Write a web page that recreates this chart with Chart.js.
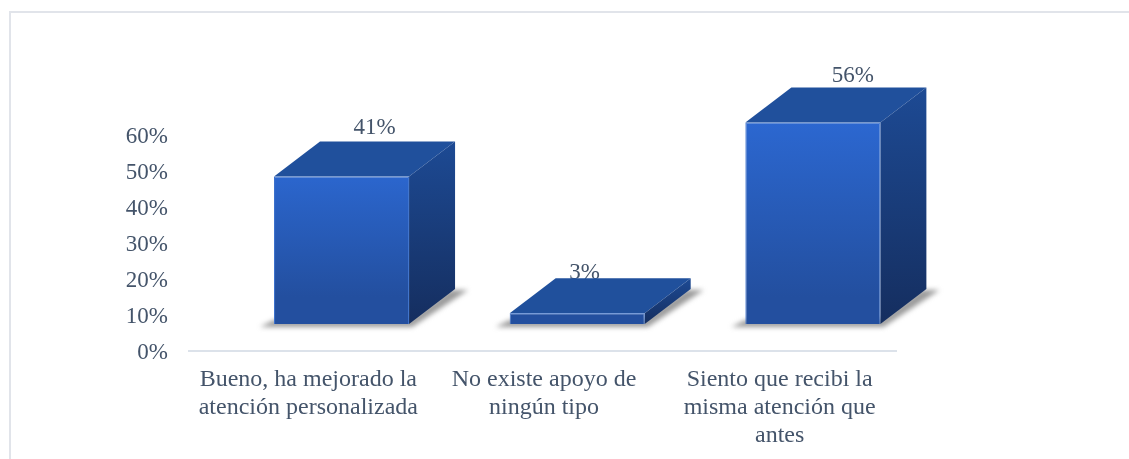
<!DOCTYPE html>
<html>
<head>
<meta charset="utf-8">
<script src="https://cdn.jsdelivr.net/npm/chart.js@4"></script>
<style>
html,body{margin:0;padding:0;background:#fff;}
#wrap{width:1129px;height:459px;position:relative;}
canvas{display:block;}
</style>
</head>
<body>
<div id="wrap"><canvas id="c" width="1129" height="459"></canvas></div>
<script>
const categories = [
  ["Bueno, ha mejorado la", "atención personalizada"],
  ["No existe apoyo de", "ningún tipo"],
  ["Siento que recibi la", "misma atención que", "antes"]
];
const values = [41, 3, 56];
const yTickLabels = ["0%", "10%", "20%", "30%", "40%", "50%", "60%"];

const TEXT = "#44546A";
const FONT = "'Liberation Serif', 'Times New Roman', serif";
const FLOOR_X = 34.7, FLOOR_Y = -27;   // the 3D floor's offset from the axes
const DEPTH_X = 46, DEPTH_Y = -35;   // depth of the 3D box
const LABEL_OFFSETS = [[10, -48], [-15.5, -40], [17, -46.5]]; // label offset from the box's back-top centre

function hexGrad(ctx, y0, y1, a, b) {
  const g = ctx.createLinearGradient(0, y0, 0, y1);
  g.addColorStop(0, a); g.addColorStop(1, b);
  return g;
}

const frame = {
  id: "frame",
  beforeDraw(chart) {
    const c = chart.ctx;
    c.save();
    c.strokeStyle = "#E1E4EA";
    c.lineWidth = 2;
    c.beginPath();
    c.moveTo(10, 459); c.lineTo(10, 12); c.lineTo(1129, 12);
    c.stroke();
    c.restore();
    // small alignment nudge for the tick labels
    chart.scales.y.getLabelItems().forEach(it => { it.options.translation = [it.options.translation[0] , it.options.translation[1] + 2]; });
    chart.scales.x.getLabelItems().forEach(it => { it.options.translation = [it.options.translation[0] + 1.5, it.options.translation[1] + 1]; });
  }
};

const box3d = {
  id: "box3d",
  beforeDatasetsDraw(chart) {
    const c = chart.ctx;
    const meta = chart.getDatasetMeta(0);
    // data labels sit behind the boxes
    c.save();
    c.fillStyle = TEXT;
    c.font = "23px " + FONT;
    c.textAlign = "center";
    c.textBaseline = "middle";
    meta.data.forEach((bar, i) => {
      const o = LABEL_OFFSETS[i];
      const cx = bar.x + FLOOR_X + o[0] + DEPTH_X / 2;
      c.fillText(values[i] + "%", cx, bar.y + FLOOR_Y + o[1]);
    });
    c.restore();

    meta.data.forEach((bar) => {
      const w = bar.width;
      const l = bar.x - w / 2 + FLOOR_X, r = bar.x + w / 2 + FLOOR_X;
      const t = bar.y + FLOOR_Y, b = bar.base + FLOOR_Y;
      // floor shadow
      c.save();
      c.filter = "blur(2.5px)";
      c.fillStyle = "rgba(120,120,120,0.75)";
      c.beginPath();
      c.moveTo(l - 14, b + 3);
      c.lineTo(r + 3, b + 3);
      c.lineTo(r + DEPTH_X + 13, b + DEPTH_Y + 1);
      c.lineTo(r + DEPTH_X - 5, b + DEPTH_Y + 1);
      c.lineTo(r, b - 4);
      c.lineTo(l, b - 4);
      c.closePath();
      c.fill();
      c.restore();
      // top face
      c.save();
      c.fillStyle = "#20509C";
      c.beginPath();
      c.moveTo(l, t); c.lineTo(r, t);
      c.lineTo(r + DEPTH_X, t + DEPTH_Y); c.lineTo(l + DEPTH_X, t + DEPTH_Y);
      c.closePath(); c.fill();
      // side face
      c.fillStyle = hexGrad(c, t + DEPTH_Y, b, "#1D4A94", "#152E5F");
      c.beginPath();
      c.moveTo(r, t); c.lineTo(r + DEPTH_X, t + DEPTH_Y);
      c.lineTo(r + DEPTH_X, b + DEPTH_Y); c.lineTo(r, b);
      c.closePath(); c.fill();
      c.restore();
    });
  },
  beforeDatasetDraw(chart) {
    chart.ctx.save();
    chart.ctx.translate(FLOOR_X, FLOOR_Y);
  },
  afterDatasetDraw(chart) {
    chart.ctx.restore();
  }
};

new Chart(document.getElementById("c"), {
  type: "bar",
  data: {
    labels: categories,
    datasets: [{
      data: values,
      clip: false,
      barPercentage: 0.573,
      categoryPercentage: 1,
      borderWidth: 1,
      borderColor: "#3A70CC",
      backgroundColor(ctx) {
        const chart = ctx.chart;
        const y = chart.scales.y;
        if (!y || typeof ctx.raw !== "number") return "#2A5FC4";
        const t = y.getPixelForValue(ctx.raw) + FLOOR_Y;
        const b = y.getPixelForValue(0) + FLOOR_Y;
        if (!isFinite(t) || !isFinite(b)) return "#2A5FC4";
        return hexGrad(chart.ctx, t, b, "#2D6BD8", "#234F9F");
      }
    }]
  },
  plugins: [frame, box3d],
  options: {
    responsive: false,
    animation: false,
    events: [],
    layout: { padding: { left: 0, top: 135, right: 233, bottom: 0 } },
    plugins: { legend: { display: false }, tooltip: { enabled: false }, title: { display: false } },
    scales: {
      x: {
        afterFit(s) { s.height = 108; },
        grid: { display: false, drawTicks: false },
        border: { display: true, color: "#DCE2EA", width: 2 },
        ticks: {
          color: TEXT, padding: 14, maxRotation: 0, minRotation: 0, autoSkip: false,
          font: { family: FONT, size: 24, lineHeight: 1.167 }
        }
      },
      y: {
        min: 0, max: 60,
        afterFit(s) { s.width = 189; },
        grid: { display: false, drawTicks: false },
        border: { display: false },
        ticks: {
          stepSize: 10, color: TEXT, padding: 21,
          font: { family: FONT, size: 23 },
          callback(v) { return yTickLabels[v / 10]; }
        }
      }
    }
  }
});
</script>
</body>
</html>
